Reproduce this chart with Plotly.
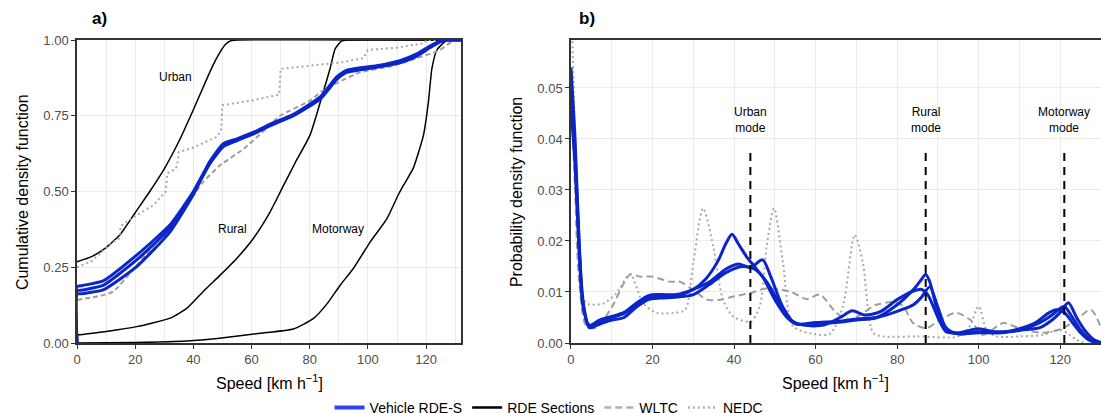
import plotly.graph_objects as go

# ---------------- Panel a: cumulative density functions ----------------
urban_v = [0, 5, 10, 15, 20, 25, 30, 35, 40, 45, 48, 51, 53, 55, 132]
urban_c = [0.268, 0.285, 0.315, 0.36, 0.43, 0.5, 0.575, 0.665, 0.77, 0.88, 0.94, 0.985, 0.998, 1.0, 1.0]

rural_v = [0, 10, 20.5, 32, 37.7, 43.4, 49.2, 55, 60.6, 66.4, 71, 75, 80.1, 84.7, 87, 88.7, 91, 93, 132]
rural_c = [0.026, 0.038, 0.054, 0.082, 0.114, 0.17, 0.224, 0.28, 0.345, 0.433, 0.52, 0.595, 0.686, 0.83, 0.906, 0.97, 0.997, 1.0, 1.0]

motor_v = [0, 20, 37.7, 49, 63, 74.4, 81.3, 86, 90.4, 95, 100.8, 106.5, 110.5, 112.2, 115.6, 119.1, 120.8, 122, 123.7, 126.5, 128, 132]
motor_c = [0, 0.002, 0.007, 0.016, 0.032, 0.046, 0.081, 0.13, 0.19, 0.246, 0.334, 0.41, 0.49, 0.52, 0.577, 0.686, 0.796, 0.906, 0.967, 0.995, 1.0, 1.0]

veh_cdf_v = [0, 0.01, 2, 9, 20.5, 32, 40, 45.7, 50.3, 55, 61.8, 66.4, 74.4, 83.6, 89.3, 92.7, 103, 111, 116.8, 121.4, 124.8, 127, 132]
veh_cdf_1 = [0, 0.186, 0.19, 0.205, 0.29, 0.39, 0.5, 0.598, 0.653, 0.67, 0.697, 0.72, 0.752, 0.808, 0.874, 0.896, 0.912, 0.928, 0.95, 0.978, 0.995, 1.0, 1.0]
veh_cdf_2 = [0, 0.172, 0.175, 0.19, 0.274, 0.379, 0.495, 0.592, 0.648, 0.668, 0.695, 0.717, 0.75, 0.805, 0.87, 0.893, 0.91, 0.925, 0.947, 0.975, 0.994, 1.0, 1.0]
veh_cdf_3 = [0, 0.161, 0.163, 0.175, 0.252, 0.367, 0.49, 0.6, 0.658, 0.674, 0.7, 0.722, 0.755, 0.812, 0.878, 0.9, 0.915, 0.932, 0.954, 0.98, 0.996, 1.0, 1.0]

wltc_cdf_v = [0, 9.1, 12.5, 20, 26.3, 35.4, 40, 43.4, 49.2, 57.2, 66.4, 69.8, 80.1, 84, 89.3, 97.3, 108.8, 116.8, 124.8, 128.8, 130, 132]
wltc_cdf = [0.142, 0.158, 0.17, 0.25, 0.323, 0.433, 0.488, 0.532, 0.587, 0.64, 0.72, 0.75, 0.80, 0.83, 0.858, 0.893, 0.915, 0.94, 0.967, 0.995, 1.0, 1.0]

nedc_cdf_v = [0, 5, 9, 12, 14.5, 15, 17, 20.5, 26.3, 30.5, 31, 34, 34.5, 35, 40, 48, 49.5, 50, 60, 66, 69.5, 70, 80, 90, 98.5, 99.5, 100, 110, 119.5, 120, 132]
nedc_cdf = [0.25, 0.27, 0.305, 0.33, 0.345, 0.385, 0.40, 0.422, 0.455, 0.5, 0.56, 0.575, 0.59, 0.63, 0.645, 0.68, 0.70, 0.785, 0.80, 0.813, 0.82, 0.905, 0.915, 0.925, 0.94, 0.955, 0.967, 0.975, 0.99, 1.0, 1.0]

cdf_labels = ["Urban", "Rural", "Motorway"]
cdf_label_x = [33.7, 53.6, 89.8]
cdf_label_y = [0.878, 0.376, 0.376]

# ---------------- Panel b: probability density functions ----------------
pdf_a_v = [0, 1, 2, 3, 4.5, 7, 10, 13, 16, 19, 22, 26, 30, 33, 36, 38, 39.5, 41, 43, 45, 47, 50, 53, 55, 60, 65, 70, 75, 80, 84, 86, 87, 88, 90, 92, 95, 100, 105, 110, 115, 118, 120, 121, 123, 125, 127, 129, 130]
pdf_a = [0.054, 0.04, 0.02, 0.008, 0.0032, 0.0042, 0.005, 0.0058, 0.0075, 0.009, 0.0092, 0.0093, 0.0105, 0.0125, 0.016, 0.0195, 0.0213, 0.0195, 0.017, 0.015, 0.013, 0.0085, 0.005, 0.0038, 0.0037, 0.004, 0.0045, 0.005, 0.0075, 0.0105, 0.0125, 0.0135, 0.012, 0.006, 0.0025, 0.0018, 0.002, 0.002, 0.0025, 0.004, 0.0055, 0.0068, 0.0072, 0.005, 0.0025, 0.0008, 0.0001, 0]

pdf_b_v = [0, 1, 2, 3, 4.5, 7, 10, 13, 16, 19, 22, 26, 30, 34, 38, 41, 44, 47, 49, 52, 55, 60, 65, 70, 75, 80, 84, 86, 88, 90, 92, 95, 100, 105, 110, 115, 118, 120, 122, 124, 126, 128, 130]
pdf_b = [0.046, 0.035, 0.018, 0.007, 0.0035, 0.0045, 0.0052, 0.006, 0.0078, 0.0093, 0.0095, 0.0095, 0.0105, 0.012, 0.0145, 0.0155, 0.0148, 0.0163, 0.013, 0.007, 0.0038, 0.004, 0.0042, 0.0047, 0.005, 0.0062, 0.0075, 0.009, 0.011, 0.007, 0.003, 0.0018, 0.0022, 0.0022, 0.0025, 0.003, 0.0045, 0.006, 0.0079, 0.005, 0.0025, 0.0008, 0.0001]

pdf_c_v = [0, 1, 2, 3, 4.5, 7, 10, 13, 16, 19, 22, 26, 30, 34, 38, 42, 45, 48, 51, 54, 57, 62, 66, 69, 72, 76, 80, 84, 86, 87.5, 90, 92, 95, 100, 105, 110, 114, 117, 119, 121, 123, 125, 127, 129]
pdf_c = [0.05, 0.037, 0.019, 0.0075, 0.003, 0.0037, 0.0045, 0.005, 0.007, 0.0085, 0.0088, 0.009, 0.0095, 0.0115, 0.0138, 0.015, 0.0145, 0.012, 0.008, 0.0045, 0.0035, 0.0035, 0.005, 0.0063, 0.0055, 0.0062, 0.0085, 0.0102, 0.0105, 0.0095, 0.005, 0.0022, 0.002, 0.0028, 0.002, 0.0028, 0.004, 0.0058, 0.0065, 0.006, 0.004, 0.002, 0.0006, 0]

wltc_pdf_v = [0, 1, 2, 3.8, 6.3, 10, 14.5, 17, 20, 24.3, 26.7, 30, 33.3, 36.6, 39.8, 44, 48, 53.7, 57.8, 61, 65.1, 68.4, 71.6, 74.9, 79, 81.5, 83.9, 87.2, 90.4, 94.5, 98, 101, 106, 110, 115.8, 120.7, 124, 127.5, 130]
wltc_pdf = [0.05, 0.03, 0.012, 0.0033, 0.003, 0.007, 0.0134, 0.013, 0.013, 0.012, 0.012, 0.0104, 0.0085, 0.0085, 0.0091, 0.0098, 0.0107, 0.0101, 0.0086, 0.0095, 0.0059, 0.0045, 0.0059, 0.0075, 0.008, 0.0072, 0.0039, 0.0029, 0.0045, 0.0059, 0.0045, 0.0016, 0.0039, 0.0029, 0.002, 0.0029, 0.0046, 0.0065, 0.003]

nedc_pdf_v = [0, 1, 2, 3.8, 8, 11.2, 14.5, 17.7, 21, 25, 28, 30, 32.4, 34.9, 37.3, 39.8, 44, 46.3, 48, 49.8, 52, 54.5, 59.4, 63.5, 66.7, 69.6, 71.6, 74.1, 76.5, 85, 95, 97.8, 100, 101.9, 104.3, 110, 115.8, 119.9, 122.3, 124, 126]
nedc_pdf = [0.07, 0.04, 0.016, 0.0078, 0.0078, 0.0098, 0.0135, 0.0078, 0.0059, 0.0059, 0.0065, 0.0157, 0.0264, 0.0189, 0.0085, 0.0052, 0.0042, 0.0072, 0.019, 0.0264, 0.0157, 0.0033, 0.0018, 0.0018, 0.0072, 0.0212, 0.0157, 0.002, 0.0013, 0.0013, 0.0013, 0.0033, 0.0072, 0.0026, 0.0013, 0.0013, 0.0016, 0.0026, 0.0016, 0.0006, 0]

mode_x = [44, 87, 121]
mode_top = 0.0378
mode_labels = ["Urban<br>mode", "Rural<br>mode", "Motorway<br>mode"]
mode_label_y = 0.0437

legend_names = ["Vehicle RDE-S", "RDE Sections", "WLTC", "NEDC"]

# ---------------- styles ----------------
BLUE = "#0a25c8"
BLUE_LEG = "#3340f0"
GREY_DASH = "#9e9e9e"
GREY_DOT = "#a8a8a8"
FONT = "Liberation Sans, Arial, sans-serif"

fig = go.Figure()

# Panel a traces
for v, c in [(urban_v, urban_c), (rural_v, rural_c), (motor_v, motor_c)]:
    fig.add_trace(go.Scatter(x=v, y=c, mode="lines", line=dict(color="black", width=1.5, shape="spline", smoothing=0.5),
                             showlegend=False, xaxis="x", yaxis="y", hoverinfo="skip"))
fig.add_trace(go.Scatter(x=nedc_cdf_v, y=nedc_cdf, mode="lines", line=dict(color=GREY_DOT, width=2, dash="2px,3px"),
                         showlegend=False, xaxis="x", yaxis="y"))
fig.add_trace(go.Scatter(x=wltc_cdf_v, y=wltc_cdf, mode="lines", line=dict(color=GREY_DASH, width=2, dash="5px,3px", shape="spline", smoothing=0.5),
                         showlegend=False, xaxis="x", yaxis="y"))
for c in [veh_cdf_1, veh_cdf_2, veh_cdf_3]:
    fig.add_trace(go.Scatter(x=veh_cdf_v, y=c, mode="lines", line=dict(color=BLUE, width=3, shape="spline", smoothing=0.5),
                             showlegend=False, xaxis="x", yaxis="y"))

# Panel b traces
fig.add_trace(go.Scatter(x=nedc_pdf_v, y=nedc_pdf, mode="lines", line=dict(color=GREY_DOT, width=2, dash="2px,3px", shape="spline", smoothing=0.8),
                         showlegend=False, xaxis="x2", yaxis="y2"))
fig.add_trace(go.Scatter(x=wltc_pdf_v, y=wltc_pdf, mode="lines", line=dict(color=GREY_DASH, width=2, dash="7px,4px", shape="spline", smoothing=0.8),
                         showlegend=False, xaxis="x2", yaxis="y2"))
for v, c in [(pdf_c_v, pdf_c), (pdf_b_v, pdf_b), (pdf_a_v, pdf_a)]:
    fig.add_trace(go.Scatter(x=v, y=c, mode="lines", line=dict(color=BLUE, width=3, shape="spline", smoothing=0.8),
                             showlegend=False, xaxis="x2", yaxis="y2"))
for mx in mode_x:
    fig.add_trace(go.Scatter(x=[mx, mx], y=[0, mode_top], mode="lines", line=dict(color="black", width=2, dash="8px,6px"),
                             showlegend=False, xaxis="x2", yaxis="y2"))

# Legend-only entries
leg_styles = [dict(color=BLUE_LEG, width=4), dict(color="black", width=2.5),
              dict(color="#b0b0b0", width=2.5, dash="7px,4px"), dict(color="#b0b0b0", width=2.5, dash="2px,3px")]
for name, st in zip(legend_names, leg_styles):
    fig.add_trace(go.Scatter(x=[None], y=[None], mode="lines", line=st, name=name, xaxis="x", yaxis="y"))

ann = []
for t, x, y in zip(cdf_labels, cdf_label_x, cdf_label_y):
    ann.append(dict(text=t, x=x, y=y, xref="x", yref="y", showarrow=False, xanchor="center", yanchor="middle",
                    font=dict(size=12, color="black", family=FONT)))
for t, x in zip(mode_labels, mode_x):
    ann.append(dict(text=t, x=x, y=mode_label_y, xref="x2", yref="y2", showarrow=False, xanchor="center", yanchor="middle",
                    font=dict(size=12, color="black", family="Liberation Sans Narrow, Arial Narrow, " + FONT)))


def paper_text(text, x, y, size, bold=False, angle=0):
    return dict(text=("<b>%s</b>" % text) if bold else text, x=x, y=y, xref="paper", yref="paper", showarrow=False,
                xanchor="center", yanchor="middle", textangle=angle, font=dict(size=size, color="black", family=FONT))


ann += [
    paper_text("a)", 0.0215, 1.0726, 17, bold=True),
    paper_text("b)", 0.4985, 1.0726, 17, bold=True),
    paper_text("Cumulative density function", -0.0537, 0.498, 16, angle=-90),
    paper_text("Probability density function", 0.4287, 0.498, 16, angle=-90),
    paper_text("Speed [km h<sup>−1</sup>]", 0.1875, -0.1287, 16),
    paper_text("Speed [km h<sup>−1</sup>]", 0.7412, -0.1287, 16),
]

axis_common = dict(showline=True, linecolor="#333333", linewidth=1.5, mirror=True, ticks="outside", ticklen=4,
                   tickcolor="#333333", tickfont=dict(size=13, color="#4d4d4d", family=FONT), showgrid=True,
                   gridcolor="#ebebeb", gridwidth=1, zeroline=False, automargin=False)

fig.update_layout(
    width=1101, height=413,
    margin=dict(l=77, r=0, t=40, b=70, autoexpand=False),
    paper_bgcolor="white", plot_bgcolor="white",
    font=dict(family=FONT),
    xaxis=dict(domain=[0, 0.375], range=[0, 132], dtick=20, minor=dict(dtick=10, showgrid=True, gridcolor="#ebebeb"), **axis_common),
    yaxis=dict(domain=[0, 1], range=[0, 1], tickvals=[0, 0.25, 0.5, 0.75, 1], tickformat=".2f", **axis_common),
    xaxis2=dict(domain=[0.4824, 1.0], range=[0, 130], dtick=20, minor=dict(dtick=10, showgrid=True, gridcolor="#ebebeb"), anchor="y2", **axis_common),
    yaxis2=dict(domain=[0, 1], range=[0, 0.0594], dtick=0.01, tickformat=".2f", anchor="x2", **axis_common),
    legend=dict(orientation="h", x=0.461, xanchor="center", y=-0.2145, yanchor="middle",
                font=dict(size=14, color="black", family=FONT), bgcolor="rgba(0,0,0,0)", itemwidth=30),
    annotations=ann,
)

fig.write_html("out.html")
